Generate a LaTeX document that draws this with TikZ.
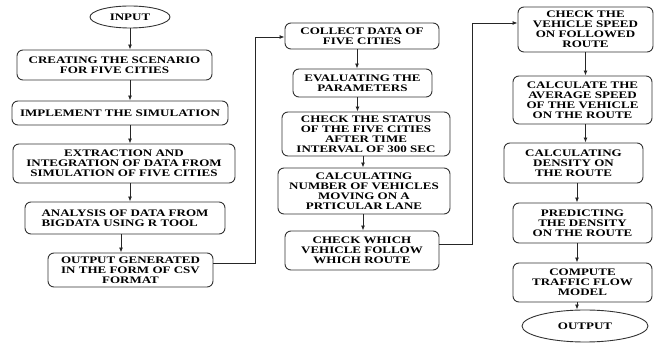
\documentclass[tikz,border=0pt]{standalone}
\usepackage{fontspec}
\usetikzlibrary{shapes.geometric,arrows.meta}
\newfontfamily\boxfont{Liberation Serif}[FakeStretch=1.3]
\tikzset{
  flowbox/.style={draw=black!80, line width=0.9pt, rounded corners=6pt, align=center, inner sep=1pt,
    font=\boxfont\bfseries\fontsize{10}{10}\selectfont},
  endbox/.style={draw=black!80, line width=0.9pt, ellipse, inner sep=0pt,
    font=\boxfont\bfseries\fontsize{10}{10}\selectfont},
  arr/.style={draw=black!85, line width=0.9pt, -{Latex[length=5pt,width=4pt]}},
}
\begin{document}
\begin{tikzpicture}[x=1pt,y=-1pt]
\useasboundingbox (0,0) rectangle (662,344);

\node[endbox, minimum width=80, minimum height=22] (in) at (130,17) {INPUT};
\node[flowbox, minimum width=195, minimum height=30] (b1) at (114.5,65) {CREATING THE SCENARIO\\FOR FIVE CITIES};
\node[flowbox, minimum width=216, minimum height=24] (b2) at (120,113) {IMPLEMENT THE SIMULATION};
\node[flowbox, minimum width=222, minimum height=39] (b3) at (124,163.5) {EXTRACTION AND\\INTEGRATION OF DATA FROM\\SIMULATION OF FIVE CITIES};
\node[flowbox, align=left, minimum width=200, minimum height=32] (b4) at (125,218) {ANALYSIS OF DATA FROM\\BIGDATA USING R TOOL};
\node[flowbox, minimum width=165, minimum height=34] (b5) at (130.5,270) {OUTPUT GENERATED\\IN THE FORM OF CSV\\FORMAT};

\node[flowbox, minimum width=154, minimum height=26] (b6) at (362,36) {COLLECT DATA OF\\FIVE CITIES};
\node[flowbox, minimum width=139, minimum height=28] (b7) at (362.5,83) {EVALUATING THE\\PARAMETERS};
\node[flowbox, minimum width=168, minimum height=44] (b8) at (366,134) {CHECK THE STATUS\\OF THE FIVE CITIES\\AFTER TIME\\INTERVAL OF 300 SEC};
\node[flowbox, minimum width=172, minimum height=46] (b9) at (364,191) {CALCULATING\\NUMBER OF VEHICLES\\MOVING ON A\\PRTICULAR LANE};
\node[flowbox, minimum width=154, minimum height=39] (b10) at (362,250.5) {CHECK WHICH\\VEHICLE FOLLOW\\WHICH ROUTE};

\node[flowbox, minimum width=135, minimum height=45] (b11) at (585.5,29.5) {CHECK THE\\VEHICLE SPEED\\ON FOLLOWED\\ROUTE};
\node[flowbox, minimum width=139, minimum height=48] (b12) at (582.5,100) {CALCULATE THE\\AVERAGE SPEED\\OF THE VEHICLE\\ON THE ROUTE};
\node[flowbox, minimum width=139, minimum height=40] (b13) at (573.5,163) {CALCULATING\\DENSITY ON\\THE ROUTE};
\node[flowbox, minimum width=139, minimum height=40] (b14) at (582.5,223) {PREDICTING\\THE DENSITY\\ON THE ROUTE};
\node[flowbox, minimum width=139, minimum height=39] (b15) at (582.5,282.5) {COMPUTE\\TRAFFIC FLOW\\MODEL};
\node[endbox, minimum width=126, minimum height=32] (out) at (585,326) {OUTPUT};

\coordinate (j1) at (255,37);
\coordinate (j2) at (472,23);

\draw[arr] (in) -- (in |- b1.north);
\draw[arr] (b1.south -| in) -- (b2.north -| in);
\draw[arr] (b2.south -| in) -- (b3.north -| in);
\draw[arr] (b3.south -| in) -- (b4.north -| in);
\draw[arr] ([xshift=-4pt]b4.south) -- ([xshift=-4pt]b4.south |- b5.north);

\draw[arr] (b5.east |- 0,263) -| (j1) -- (j1 -| b6.west);

\draw[arr] ([xshift=-5pt]b6.south) -- ([xshift=-5pt]b6.south |- b7.north);
\draw[arr] ([xshift=-5pt]b7.south) -- ([xshift=-5pt]b7.south |- b8.north);
\draw[arr] ([xshift=-3pt]b8.south) -- ([xshift=-3pt]b8.south |- b9.north);
\draw[arr] ([xshift=-1pt]b9.south) -- ([xshift=-1pt]b9.south |- b10.north);

\draw[arr] (b10.east |- 0,244) -| (j2) -- (j2 -| b11.west);

\draw[arr] (b11) -- (b11 |- b12.north);
\draw[arr] (b12.south -| b11) -- (b13.north -| b11);
\draw[arr] ([xshift=3.5pt]b13.south) -- ([xshift=3.5pt]b13.south |- b14.north);
\draw[arr] ([xshift=3.5pt]b13.south |- b14.south) -- ([xshift=3.5pt]b13.south |- b15.north);
\draw[arr] ([xshift=3.5pt]b13.south |- b15.south) -- ([xshift=3.5pt]b13.south |- out.north);
\end{tikzpicture}
\end{document}
